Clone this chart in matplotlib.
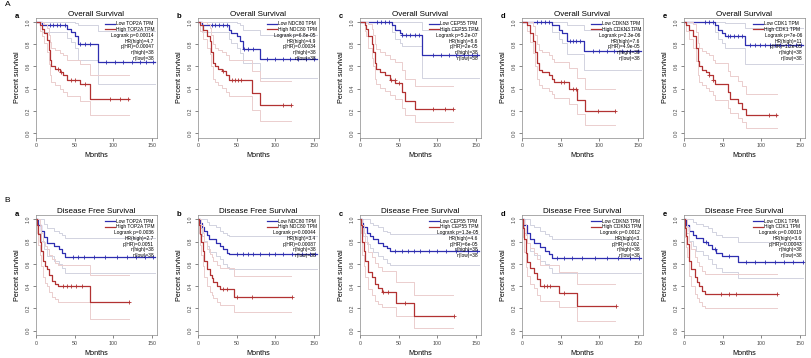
import numpy as np
import matplotlib
matplotlib.use("Agg")
import matplotlib.pyplot as plt

plt.rcParams['font.family'] = ['Liberation Sans', 'DejaVu Sans']

genes = ["TOP2A", "NDC80", "CEP55", "CDKN3", "CDK1"]
panel_letters = ["a", "b", "c", "d", "e"]
n_high = 38
n_low = 38
low_end = 155
high_end = 121

# ---- Overall survival ----
os_p = ["0.00014", "6.8e-05", "5.2e-07", "2.3e-06", "7e-06"]
os_hr = ["4.7", "4.9", "8.6", "7.6", "11"]
os_phr = ["0.00047", "0.00034", "2e-05", "4.9e-05", "1.2e-05"]

os_low_t = [[0, 8, 40, 45, 50, 55, 80],
            [0, 5, 40, 43, 51, 54, 59, 80],
            [0, 41, 46, 52, 55, 80],
            [0, 39, 48, 52, 58, 80],
            [0, 40, 44, 49, 53, 79]]
os_low_s = [[1.0, 0.97, 0.94, 0.91, 0.87, 0.80, 0.64],
            [1.0, 0.97, 0.93, 0.90, 0.87, 0.83, 0.76, 0.67],
            [1.0, 0.97, 0.93, 0.90, 0.88, 0.70],
            [1.0, 0.97, 0.93, 0.90, 0.83, 0.74],
            [1.0, 0.97, 0.93, 0.90, 0.87, 0.79]]
os_low_up = [[1.0, 1.0, 1.0, 1.0, 0.99, 0.97, 0.92],
             [1.0, 1.0, 1.0, 1.0, 0.99, 0.97, 0.93, 0.88],
             [1.0, 1.0, 1.0, 1.0, 1.0, 0.93],
             [1.0, 1.0, 1.0, 1.0, 0.97, 0.93],
             [1.0, 1.0, 1.0, 1.0, 0.99, 0.95]]
os_low_lo = [[1.0, 0.91, 0.86, 0.82, 0.77, 0.66, 0.44],
             [1.0, 0.91, 0.85, 0.81, 0.77, 0.72, 0.63, 0.50],
             [1.0, 0.91, 0.85, 0.81, 0.78, 0.50],
             [1.0, 0.91, 0.85, 0.81, 0.71, 0.57],
             [1.0, 0.91, 0.85, 0.81, 0.77, 0.62]]
os_low_cens = [[18, 22, 27, 31, 38, 57, 63, 70, 91, 102, 113, 124, 135, 143, 152],
               [18, 22, 27, 32, 38, 60, 65, 72, 90, 100, 110, 120, 130, 140, 150],
               [22, 27, 32, 38, 55, 60, 65, 72, 76, 95, 105, 115, 125, 135, 145, 152],
               [20, 25, 30, 35, 62, 66, 70, 75, 92, 100, 110, 120, 130, 140, 150],
               [27, 32, 38, 57, 60, 65, 70, 75, 85, 92, 98, 105, 112, 118, 125, 135, 145, 152]]

os_high_t = [[0, 5, 8, 11, 14, 17, 18, 20, 25, 31, 35, 40, 57, 70],
             [0, 2, 7, 12, 15, 17, 20, 22, 26, 31, 36, 40, 70, 81],
             [0, 6, 8, 11, 15, 17, 19, 21, 26, 33, 39, 46, 54, 59, 72],
             [0, 6, 11, 14, 17, 19, 22, 26, 35, 39, 41, 61, 72, 82],
             [0, 3, 7, 12, 15, 18, 20, 23, 29, 33, 37, 40, 57, 60, 70, 75, 81]]
os_high_s = [[1.0, 0.97, 0.94, 0.90, 0.84, 0.75, 0.66, 0.60, 0.58, 0.55, 0.52, 0.48, 0.44, 0.31],
             [1.0, 0.97, 0.93, 0.87, 0.83, 0.73, 0.63, 0.60, 0.58, 0.56, 0.52, 0.48, 0.36, 0.25],
             [1.0, 0.97, 0.94, 0.87, 0.80, 0.73, 0.63, 0.58, 0.55, 0.52, 0.48, 0.45, 0.37, 0.29, 0.22],
             [1.0, 0.97, 0.90, 0.83, 0.73, 0.63, 0.57, 0.55, 0.52, 0.49, 0.46, 0.40, 0.30, 0.20],
             [1.0, 0.97, 0.93, 0.87, 0.77, 0.65, 0.60, 0.57, 0.55, 0.52, 0.48, 0.44, 0.37, 0.31, 0.27, 0.22, 0.16]]
os_high_up = [[1.0, 1.0, 1.0, 0.98, 0.95, 0.88, 0.82, 0.77, 0.75, 0.72, 0.70, 0.66, 0.62, 0.52],
              [1.0, 1.0, 1.0, 0.98, 0.95, 0.88, 0.80, 0.77, 0.75, 0.73, 0.70, 0.66, 0.56, 0.47],
              [1.0, 1.0, 1.0, 0.98, 0.94, 0.88, 0.80, 0.76, 0.73, 0.70, 0.67, 0.64, 0.57, 0.49, 0.42],
              [1.0, 1.0, 1.0, 0.96, 0.88, 0.80, 0.75, 0.73, 0.70, 0.67, 0.64, 0.59, 0.50, 0.40],
              [1.0, 1.0, 1.0, 0.98, 0.91, 0.81, 0.77, 0.74, 0.72, 0.70, 0.66, 0.63, 0.56, 0.51, 0.47, 0.42, 0.35]]
os_high_lo = [[1.0, 0.92, 0.87, 0.81, 0.73, 0.62, 0.52, 0.46, 0.43, 0.40, 0.37, 0.33, 0.29, 0.16],
              [1.0, 0.92, 0.85, 0.77, 0.71, 0.60, 0.49, 0.46, 0.43, 0.41, 0.37, 0.33, 0.21, 0.11],
              [1.0, 0.92, 0.87, 0.77, 0.68, 0.60, 0.49, 0.44, 0.41, 0.38, 0.34, 0.31, 0.23, 0.16, 0.10],
              [1.0, 0.92, 0.82, 0.72, 0.60, 0.49, 0.43, 0.41, 0.38, 0.35, 0.32, 0.26, 0.17, 0.07],
              [1.0, 0.92, 0.85, 0.77, 0.65, 0.52, 0.46, 0.43, 0.41, 0.38, 0.34, 0.30, 0.23, 0.18, 0.14, 0.10, 0.05]]
os_high_cens = [[29, 33, 46, 50, 63, 96, 109, 120],
                [33, 44, 48, 52, 56, 110, 121],
                [40, 45, 50, 95, 110, 121],
                [50, 55, 66, 70, 98, 121],
                [33, 38, 110, 120]]

# ---- Disease free survival ----
dfs_p = ["0.0036", "0.00044", "1.3e-05", "0.0012", "0.00019"]
dfs_hr = ["2.7", "3.4", "4.6", "3", "3.6"]
dfs_phr = ["0.0051", "0.00087", "6e-05", "0.002", "0.00043"]

dfs_low_t = [[0, 3, 6, 10, 14, 23, 30, 34, 38],
             [0, 2, 5, 8, 12, 14, 23, 29, 33, 38, 40],
             [0, 2, 4, 9, 13, 17, 24, 30, 35, 39],
             [0, 2, 6, 11, 15, 24, 30, 35, 39],
             [0, 3, 7, 12, 16, 25, 31, 36, 42, 49, 70]]
dfs_low_s = [[1.0, 0.95, 0.90, 0.84, 0.79, 0.76, 0.73, 0.70, 0.66],
             [1.0, 0.97, 0.93, 0.90, 0.86, 0.82, 0.79, 0.76, 0.73, 0.70, 0.69],
             [1.0, 0.97, 0.93, 0.88, 0.85, 0.82, 0.79, 0.76, 0.74, 0.72],
             [1.0, 0.95, 0.88, 0.82, 0.79, 0.75, 0.72, 0.69, 0.65],
             [1.0, 0.95, 0.90, 0.86, 0.83, 0.80, 0.77, 0.73, 0.70, 0.67, 0.62]]
dfs_low_up = [[1.0, 1.0, 1.0, 0.96, 0.92, 0.90, 0.88, 0.86, 0.83],
              [1.0, 1.0, 1.0, 1.0, 0.98, 0.95, 0.93, 0.90, 0.88, 0.86, 0.85],
              [1.0, 1.0, 1.0, 1.0, 0.97, 0.95, 0.93, 0.90, 0.89, 0.87],
              [1.0, 1.0, 1.0, 0.95, 0.93, 0.90, 0.87, 0.85, 0.82],
              [1.0, 1.0, 1.0, 0.98, 0.96, 0.94, 0.92, 0.89, 0.86, 0.84, 0.80]]
dfs_low_lo = [[1.0, 0.88, 0.81, 0.73, 0.67, 0.63, 0.60, 0.56, 0.52],
              [1.0, 0.92, 0.85, 0.81, 0.76, 0.71, 0.67, 0.64, 0.60, 0.57, 0.55],
              [1.0, 0.92, 0.85, 0.78, 0.74, 0.71, 0.67, 0.64, 0.61, 0.59],
              [1.0, 0.88, 0.79, 0.72, 0.68, 0.63, 0.60, 0.56, 0.52],
              [1.0, 0.88, 0.81, 0.76, 0.72, 0.68, 0.64, 0.60, 0.56, 0.53, 0.47]]
dfs_low_cens = [[48, 55, 62, 75, 90, 105, 118, 130, 142, 152],
                [50, 58, 65, 72, 80, 92, 100, 110, 122, 135, 145, 152],
                [45, 55, 62, 70, 78, 90, 100, 112, 125, 140, 152],
                [45, 55, 65, 78, 95, 110, 125, 140, 152],
                [28, 40, 58, 80, 92, 105, 118, 130, 142, 155]]

dfs_high_t = [[0, 1, 3, 5, 6, 9, 12, 14, 17, 21, 25, 28, 70],
              [0, 1, 3, 4, 6, 8, 12, 15, 18, 20, 25, 28, 47],
              [0, 1, 2, 3, 5, 7, 11, 16, 20, 24, 28, 47, 70],
              [0, 1, 3, 5, 7, 11, 15, 19, 23, 48, 71],
              [0, 1, 2, 4, 6, 7, 9, 14, 17, 20, 23, 27]]
dfs_high_s = [[1.0, 0.95, 0.87, 0.80, 0.72, 0.63, 0.58, 0.55, 0.50, 0.45, 0.42, 0.40, 0.26],
              [1.0, 0.95, 0.87, 0.80, 0.72, 0.63, 0.55, 0.50, 0.47, 0.44, 0.40, 0.37, 0.30],
              [1.0, 0.95, 0.88, 0.80, 0.72, 0.63, 0.53, 0.48, 0.42, 0.38, 0.35, 0.25, 0.13],
              [1.0, 0.92, 0.82, 0.70, 0.62, 0.56, 0.52, 0.46, 0.40, 0.34, 0.22],
              [1.0, 0.92, 0.85, 0.78, 0.70, 0.63, 0.55, 0.48, 0.44, 0.40, 0.36, 0.33]]
dfs_high_up = [[1.0, 1.0, 1.0, 0.95, 0.88, 0.80, 0.76, 0.73, 0.68, 0.64, 0.61, 0.59, 0.50],
               [1.0, 1.0, 1.0, 0.95, 0.88, 0.80, 0.73, 0.69, 0.66, 0.63, 0.59, 0.56, 0.49],
               [1.0, 1.0, 1.0, 0.95, 0.88, 0.80, 0.71, 0.66, 0.61, 0.57, 0.54, 0.44, 0.32],
               [1.0, 1.0, 0.96, 0.86, 0.79, 0.74, 0.70, 0.64, 0.59, 0.53, 0.42],
               [1.0, 1.0, 1.0, 0.93, 0.86, 0.80, 0.73, 0.66, 0.62, 0.58, 0.54, 0.51]]
dfs_high_lo = [[1.0, 0.88, 0.77, 0.68, 0.58, 0.48, 0.43, 0.40, 0.35, 0.30, 0.28, 0.26, 0.10],
               [1.0, 0.88, 0.77, 0.68, 0.58, 0.48, 0.40, 0.35, 0.32, 0.29, 0.26, 0.23, 0.17],
               [1.0, 0.88, 0.78, 0.68, 0.58, 0.48, 0.37, 0.32, 0.27, 0.24, 0.21, 0.13, 0.02],
               [1.0, 0.84, 0.71, 0.57, 0.49, 0.42, 0.38, 0.32, 0.27, 0.21, 0.09],
               [1.0, 0.84, 0.75, 0.66, 0.57, 0.49, 0.40, 0.33, 0.29, 0.26, 0.22, 0.20]]
dfs_high_cens = [[35, 40, 46, 52, 60, 121],
                 [33, 38, 50, 70, 122],
                 [30, 36, 58, 122],
                 [28, 32, 36, 55, 122],
                 [48, 58, 68, 121]]

BLUE = "#2e2eb0"
RED = "#b23232"
BLUE_CI = "#d2d3e0"
RED_CI = "#ebcece"


def step_at(t, s, x):
    idx = np.searchsorted(t, x, side="right") - 1
    return np.asarray(s)[idx]


def draw_curve(ax, t, s, up, lo, cens, end, col, ci_col):
    tt = list(t) + [end]
    ax.step(tt, list(up) + [up[-1]], where="post", color=ci_col, lw=0.7)
    ax.step(tt, list(lo) + [lo[-1]], where="post", color=ci_col, lw=0.7)
    ax.step(tt, list(s) + [s[-1]], where="post", color=col, lw=0.9)
    ax.plot(cens, step_at(t, s, cens), "+", color=col, ms=3, mew=0.6)


fig = plt.figure(figsize=(8.12, 3.58), dpi=100)
W, H = 812, 358
lefts = [36, 198, 360, 522, 684]
box_w = 121

rows = [
    ("Overall Survival", 17.6, os_p, os_hr, os_phr,
     os_low_t, os_low_s, os_low_up, os_low_lo, os_low_cens,
     os_high_t, os_high_s, os_high_up, os_high_lo, os_high_cens),
    ("Disease Free Survival", 215, dfs_p, dfs_hr, dfs_phr,
     dfs_low_t, dfs_low_s, dfs_low_up, dfs_low_lo, dfs_low_cens,
     dfs_high_t, dfs_high_s, dfs_high_up, dfs_high_lo, dfs_high_cens),
]
box_h = 120

for r, row in enumerate(rows):
    (title, top, pv, hr, phr, lt, ls, lu, ll, lc, ht, hs, hu, hl, hc) = row
    for i in range(5):
        ax = fig.add_axes([lefts[i] / W, 1 - (top + box_h) / H, box_w / W, box_h / H])
        draw_curve(ax, lt[i], ls[i], lu[i], ll[i], lc[i], low_end, BLUE, BLUE_CI)
        draw_curve(ax, ht[i], hs[i], hu[i], hl[i], hc[i], high_end, RED, RED_CI)
        ax.set_xlim(0, 157)
        ax.set_ylim(-0.04, 1.04)
        ax.set_xticks([0, 50, 100, 150])
        ax.set_yticks([0, 0.2, 0.4, 0.6, 0.8, 1.0])
        ax.set_yticklabels(["0.0", "0.2", "0.4", "0.6", "0.8", "1.0"],
                           rotation=90, va="center")
        ax.tick_params(length=2, width=0.5, labelsize=3.8, pad=2, colors="#555555",
                       labelcolor="#444444")
        for sp in ax.spines.values():
            sp.set_color("#888888")
            sp.set_linewidth(0.5)
        ax.set_title(title, fontsize=5.8, pad=1.5)
        ax.set_xlabel("Months", fontsize=5.2, labelpad=3)
        ax.set_ylabel("Percent survival", fontsize=5.2, labelpad=3)

        # legend block
        y0, dy = 0.985, 0.052
        ax.plot([89, 102], [y0, y0], color=BLUE, lw=0.9)
        ax.plot([89, 102], [y0 - dy, y0 - dy], color=RED, lw=0.9)
        ax.text(104, y0, "Low " + genes[i] + " TPM", fontsize=3.5, va="center", ha="left")
        ax.text(104, y0 - dy, "High " + genes[i] + " TPM", fontsize=3.5, va="center", ha="left")
        stats = ["Logrank p=" + pv[i], "HR(high)=" + hr[i], "p(HR)=" + phr[i],
                 "n(high)=" + str(n_high), "n(low)=" + str(n_low)]
        for k, st in enumerate(stats):
            ax.text(153, y0 - (k + 2) * dy, st, fontsize=3.5, va="center", ha="right")

        fig.text((lefts[i] - 19) / W, 1 - (top - 1) / H, panel_letters[i],
                 fontsize=5.5, fontweight="bold", ha="center", va="center")

fig.text(8 / W, 1 - 4 / H, "A", fontsize=6, ha="center", va="center")
fig.text(7 / W, 1 - 200 / H, "B", fontsize=6, ha="center", va="center")

fig.savefig("out.png", dpi=100)
